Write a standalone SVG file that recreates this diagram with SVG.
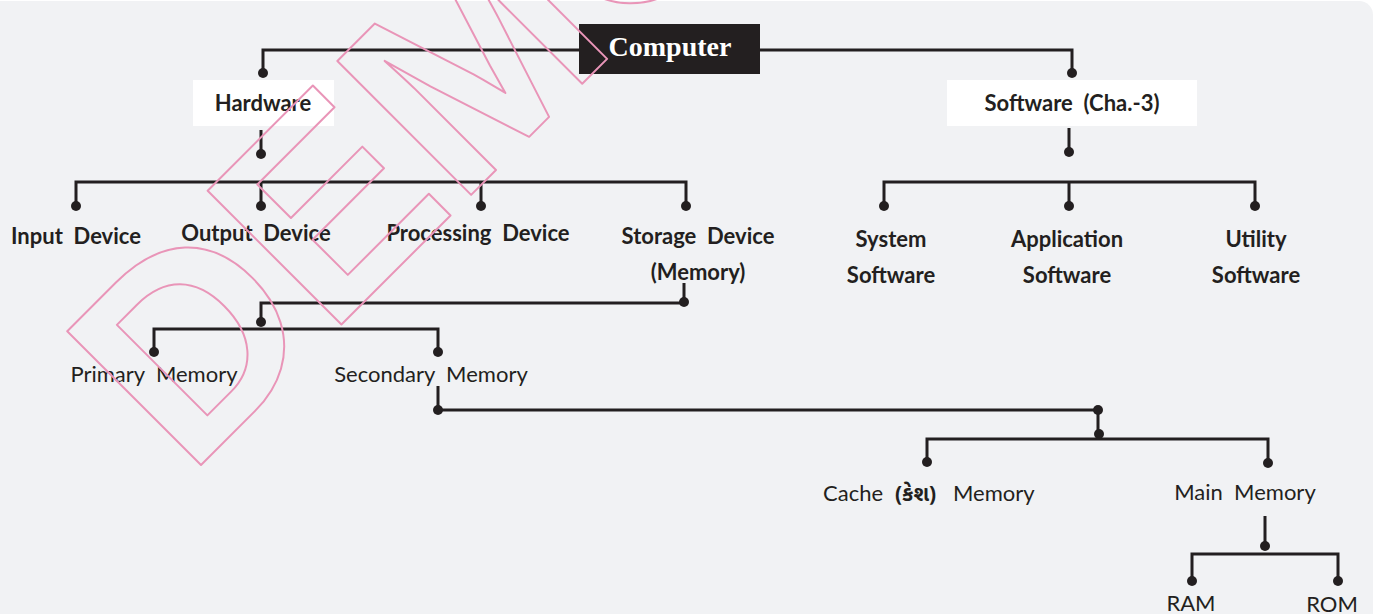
<svg xmlns="http://www.w3.org/2000/svg" width="1386" height="614" viewBox="0 0 1386 614">
<style>
.bg{fill:#f1f2f4}
.ln{fill:none;stroke:#231f20;stroke-width:3}
.dot{fill:#231f20}
.box{fill:#ffffff}
.cbox{fill:#231f20}
.ct{font-family:"Liberation Serif","Times New Roman",serif;font-weight:700;font-size:28px;fill:#ffffff;text-anchor:middle}
.b{font-family:Lato,"Noto Sans",sans-serif;font-weight:700;font-size:22px;fill:#231f20;text-anchor:middle;white-space:pre}
.r{font-family:Lato,"Noto Sans",sans-serif;font-weight:400;font-size:22px;fill:#231f20;text-anchor:middle;white-space:pre}
.gu{font-family:"Noto Sans Gujarati",Lato,"Noto Sans",sans-serif;font-weight:700;font-size:21px}
.wm{font-family:"Liberation Sans",Arial,sans-serif;font-weight:700;font-size:275px;fill:none;stroke:#e995b8;stroke-width:2;stroke-linejoin:round}
</style>
<rect class="bg" x="-20" y="1" width="1393" height="640" rx="14"/>
<g id="connectors">
<path class="ln" d="M579,50H263V73 M760,50H1072V73 M261,130V154 M76,206V182H686V206 M261,182V206 M481,182V206 M1069,128V152 M884,206V182H1255V206 M1069,182V206 M684,283V302 M684,303H261V322 M154,352V329H438V352 M438,386V410H1098V434 M927,462V439H1268V463 M1265,516V546 M1192,581V554H1338V581"/>
<circle class="dot" cx="263" cy="73" r="5"/>
<circle class="dot" cx="1072" cy="73" r="5"/>
<circle class="dot" cx="261" cy="154" r="5"/>
<circle class="dot" cx="76" cy="206" r="5"/>
<circle class="dot" cx="261" cy="206" r="5"/>
<circle class="dot" cx="481" cy="206" r="5"/>
<circle class="dot" cx="686" cy="206" r="5"/>
<circle class="dot" cx="1069" cy="152" r="5"/>
<circle class="dot" cx="884" cy="206" r="5"/>
<circle class="dot" cx="1069" cy="206" r="5"/>
<circle class="dot" cx="1255" cy="206" r="5"/>
<circle class="dot" cx="684" cy="302" r="5"/>
<circle class="dot" cx="261" cy="322" r="5"/>
<circle class="dot" cx="154" cy="352" r="5"/>
<circle class="dot" cx="438" cy="352" r="5"/>
<circle class="dot" cx="438" cy="410" r="5"/>
<circle class="dot" cx="1098" cy="410" r="5"/>
<circle class="dot" cx="1099" cy="434" r="5"/>
<circle class="dot" cx="927" cy="462" r="5"/>
<circle class="dot" cx="1268" cy="463" r="5"/>
<circle class="dot" cx="1265" cy="546" r="5"/>
<circle class="dot" cx="1192" cy="581" r="5"/>
<circle class="dot" cx="1338" cy="581" r="5"/>
</g>
<g id="computer"><rect class="cbox" x="579" y="24" width="181" height="50"/><text class="ct" x="670" y="56">Computer</text></g>
<g id="hardware"><rect class="box" x="193" y="80" width="141" height="46"/><text class="b" x="263" y="111">Hardware</text></g>
<g id="software"><rect class="box" x="947" y="80" width="250" height="46"/><text class="b" x="1072" y="111">Software  (Cha.-3)</text></g>
<g id="input"><text class="b" x="76" y="244">Input  Device</text></g>
<g id="output"><text class="b" x="256" y="241">Output  Device</text></g>
<g id="processing"><text class="b" x="478" y="241">Processing  Device</text></g>
<g id="storage"><text class="b" x="698" y="244">Storage  Device</text><text class="b" x="698" y="280">(Memory)</text></g>
<g id="system-software"><text class="b" x="891" y="247">System</text><text class="b" x="891" y="283">Software</text></g>
<g id="application-software"><text class="b" x="1067" y="247">Application</text><text class="b" x="1067" y="283">Software</text></g>
<g id="utility-software"><text class="b" x="1256" y="247">Utility</text><text class="b" x="1256" y="283">Software</text></g>
<g id="primary-memory"><text class="r" x="154" y="382">Primary  Memory</text></g>
<g id="secondary-memory"><text class="r" x="431" y="382">Secondary  Memory</text></g>
<g id="cache-memory"><text class="r" x="823" y="501" style="text-anchor:start"><tspan>Cache</tspan><tspan class="gu" x="895">(કેશ)</tspan><tspan x="953">Memory</tspan></text></g>
<g id="main-memory"><text class="r" x="1245" y="500">Main  Memory</text></g>
<g id="ram"><text class="r" x="1191" y="611">RAM</text></g>
<g id="rom"><text class="r" x="1332" y="612">ROM</text></g>
<g id="watermark"><text class="wm" transform="translate(188,478) rotate(-45)">DEMO</text></g>
</svg>
